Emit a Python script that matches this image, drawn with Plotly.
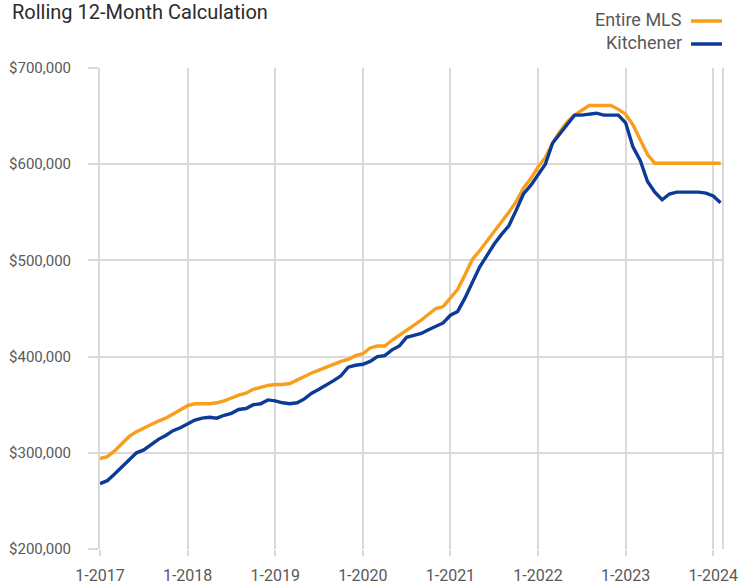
import plotly.graph_objects as go

years = [2017, 2018, 2019, 2020, 2021, 2022, 2023, 2024]
tick_labels = [f"1-{y}" for y in years]
series_names = ["Entire MLS", "Kitchener"]

# Monthly values, Jan 2017 .. Feb 2024 (86 months)
entire_mls = [
    294000, 296000, 302000, 309000, 317000, 322000, 326000, 329000, 333000, 336000, 340000, 345000,
    349000, 351000, 351000, 351000, 352000, 354000, 357000, 360000, 362000, 366000, 368000, 370000,
    371000, 371000, 372000, 376000, 380000, 383000, 386000, 389000, 392000, 395000, 397000, 401000,
    403000, 409000, 411000, 411000, 417000, 422000, 427000, 432000, 438000, 444000, 450000, 452000,
    461000, 470000, 485000, 501000, 510000, 520000, 529000, 539000, 550000, 561000, 575000, 585000,
    597000, 607000, 622000, 634000, 644000, 651000, 656000, 661000, 661000, 661000, 661000, 657000,
    652000, 641000, 626000, 610000, 601000, 601000, 601000, 601000, 601000, 601000, 601000, 601000,
    601000, 601000,
]
kitchener = [
    268000, 271000, 278000, 285000, 292000, 300000, 303000, 309000, 314000, 318000, 323000, 326000,
    330000, 334000, 336000, 337000, 336000, 339000, 341000, 345000, 346000, 350000, 351000, 355000,
    354000, 352000, 351000, 352000, 356000, 362000, 366000, 370000, 375000, 380000, 389000, 391000,
    392000, 395000, 400000, 401000, 407000, 411000, 420000, 422000, 424000, 428000, 432000, 435000,
    443000, 447000, 461000, 478000, 493000, 505000, 517000, 527000, 536000, 552000, 569000, 578000,
    589000, 600000, 622000, 632000, 642000, 651000, 651000, 652000, 653000, 651000, 651000, 651000,
    643000, 618000, 604000, 582000, 571000, 563000, 569000, 571000, 571000, 571000, 571000, 570000,
    567000, 560000,
]
y_ticks = [200000, 300000, 400000, 500000, 600000, 700000]

colors = ["#F99D1C", "#0B3B96"]
months = list(range(len(entire_mls)))
tickvals = [12 * i for i in range(len(years))]

FONT = "Roboto, Open Sans, sans-serif"
GRID = "#D9D9D9"
W, H = 750, 585
L, R, T, B = 100, 28, 68, 36


def px(xp):
    return (xp - L) / (W - L - R)


def py(yp):
    return (H - B - yp) / (H - T - B)


fig = go.Figure()
for name, vals, c in zip(series_names, [entire_mls, kitchener], colors):
    fig.add_trace(go.Scatter(x=months, y=vals, mode="lines", name=name,
                             line=dict(color=c, width=3.4), showlegend=False))

fig.update_layout(
    width=W, height=H,
    margin=dict(l=L, r=R, t=T, b=B, autoexpand=False),
    paper_bgcolor="white", plot_bgcolor="white",
    font=dict(family=FONT, color="#595959", size=15),
    title=dict(text="Rolling 12-Month Calculation", xref="container", yref="container",
               x=12 / W, xanchor="left", y=1 - 12 / H, yanchor="middle",
               font=dict(family=FONT, size=20, color="#2b2b2b")),
    showlegend=False,
)
fig.update_xaxes(
    range=[0, 85.2], tickvals=tickvals, ticktext=tick_labels,
    showgrid=True, gridcolor=GRID, gridwidth=2,
    ticks="outside", ticklen=6, tickcolor=GRID, tickwidth=2,
    tickfont=dict(size=16, color="#595959"), zeroline=False,
    showline=False, ticklabelstandoff=6, automargin=False,
)
fig.update_yaxes(
    range=[200000, 700000], tickvals=y_ticks,
    ticktext=[f"${v:,.0f}" for v in y_ticks],
    showgrid=True, gridcolor=GRID, gridwidth=2,
    ticks="outside", ticklen=10, tickcolor=GRID, tickwidth=2,
    showline=True, mirror=True, linecolor=GRID, linewidth=2,
    tickfont=dict(size=15, color="#595959"), zeroline=False,
    ticklabelstandoff=14, automargin=False,
)

# legend: text followed by line sample, top right
legend_y = [19, 42]
for name, c, yy in zip(series_names, colors, legend_y):
    fig.add_annotation(text=name, xref="paper", yref="paper",
                       x=px(684), y=py(yy), xanchor="right", yanchor="middle",
                       showarrow=False,
                       font=dict(family=FONT, size=18, color="#595959"))
    fig.add_shape(type="line", xref="paper", yref="paper",
                  x0=px(691), x1=px(722), y0=py(yy + 2), y1=py(yy + 2),
                  line=dict(color=c, width=3.5))

fig.write_html("out.html", config={"displayModeBar": False},
               post_script="document.body.style.margin='0';")
